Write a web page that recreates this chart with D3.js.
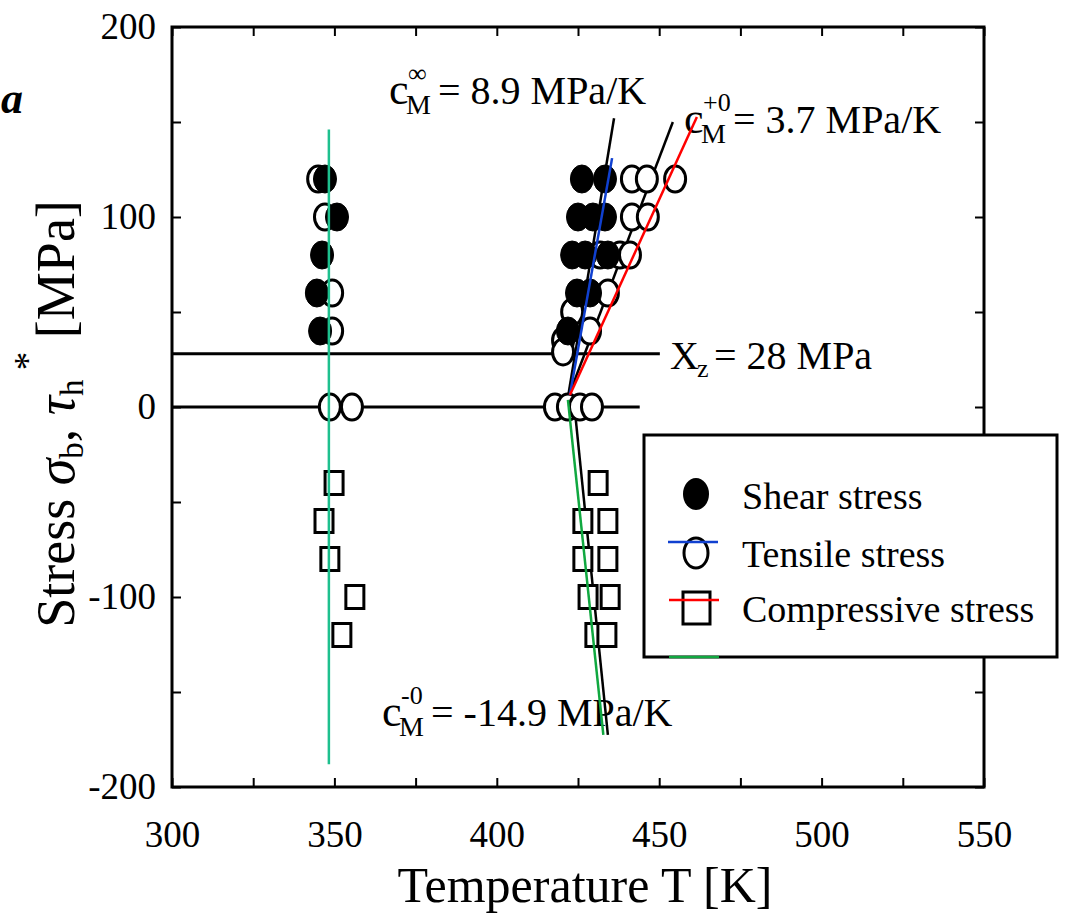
<!DOCTYPE html>
<html><head><meta charset="utf-8">
<script src="https://cdn.jsdelivr.net/npm/d3@7"></script>
<style>
html,body{margin:0;padding:0;background:#fff;}
svg{display:block;font-family:"Liberation Serif","DejaVu Serif",serif;}
</style></head>
<body><svg id="c" width="1067" height="920"></svg>
<script>
// ---------- data ----------
const xTicks = [300,325,350,375,400,425,450,475,500,525,550];
const xLabels = [300,350,400,450,500,550];
const yTicks = [-200,-150,-100,-50,0,50,100,150,200];
const yLabels = [-200,-100,0,100,200];

// shear stress (filled circles): [T (K), stress (MPa)]
const shearPts = [
  [347.1,120],[350.8,100],[346.2,80],[344.6,60],[345.6,40],
  [426.2,120],[433.3,120],[425.0,100],[429.6,100],[433.3,100],
  [423.2,80],[427.2,80],[434.2,80],[424.7,60],[428.7,60],[421.9,40]
];
// tensile stress (open circles)
const tensilePts = [
  [345.0,120],[347.1,100],[349.3,60],[349.3,40],[348.6,0],[355.4,0],
  [441.6,120],[446.2,120],[454.9,120],[441.6,100],[446.5,100],
  [431.8,80],[437.9,80],[441.0,80],[434.2,60],[423.2,50],[428.7,40],
  [420.4,35],[420.4,29],[417.9,0],[421.9,0],[425.6,0],[429.3,0]
];
// compressive stress (open squares)
const compPts = [
  [349.9,-40],[346.8,-60],[348.6,-80],[356.3,-100],[352.3,-120],
  [431.2,-40],[426.5,-60],[434.2,-60],[426.5,-80],[434.2,-80],
  [428.1,-100],[434.9,-100],[430.2,-120],[433.9,-120]
];
// reference lines
const xzValue = 28;            // X_z = 28 MPa
const xzEnd = 450.2;
const zeroEnd = 444;
const fitInf  = [[421.9,5],[436.1,152]];     // c_M^inf  (black)
const fitPlus = [[421.5,3],[454.2,150]];     // c_M^+0   (black)
const fitMinus= [[424.1,-3],[434.2,-172.6]]; // c_M^-0   (black)
const blueLine  = [[422.5,6.3],[435.5,131]];
const redLine   = [[422.5,6.3],[461.6,152.6]];
const greenDiag = [[421.9,3.7],[432.8,-172.6]];
const greenVert = [[348.3,146],[348.3,-188]];
const legendItems = ["Shear stress","Tensile stress","Compressive stress"];

// ---------- drawing ----------
const svg = d3.select("#c");
const x = d3.scaleLinear().domain([300,550]).range([172,984]);
const y = d3.scaleLinear().domain([-200,200]).range([787,27]);
const line = d3.line().x(d=>x(d[0])).y(d=>y(d[1]));

// frame
svg.append("rect").attr("x",x(300)).attr("y",y(200))
  .attr("width",x(550)-x(300)).attr("height",y(-200)-y(200))
  .attr("fill","none").attr("stroke","#000").attr("stroke-width",3);

function styleAxis(g){
  g.select(".domain").remove();
  g.selectAll(".tick line").attr("stroke","#000").attr("stroke-width",2);
  g.selectAll("text").attr("fill","#000").attr("font-family","Liberation Serif");
}
svg.append("g").attr("transform",`translate(0,${y(-200)})`)
  .call(d3.axisBottom(x).tickValues(xTicks).tickSize(-9).tickPadding(34)
    .tickFormat(d=>xLabels.includes(d)?d:""))
  .call(styleAxis).selectAll("text").attr("font-size",37);
svg.append("g").attr("transform",`translate(0,${y(200)})`)
  .call(d3.axisTop(x).tickValues(xTicks).tickSize(-9).tickFormat(""))
  .call(styleAxis);
svg.append("g").attr("transform",`translate(${x(300)},0)`)
  .call(d3.axisLeft(y).tickValues(yTicks).tickSize(-9).tickPadding(16)
    .tickFormat(d=>yLabels.includes(d)?d:""))
  .call(styleAxis).selectAll("text").attr("font-size",37);
svg.append("g").attr("transform",`translate(${x(550)},0)`)
  .call(d3.axisRight(y).tickValues(yTicks).tickSize(-9).tickFormat(""))
  .call(styleAxis);

// horizontal reference lines
svg.append("path").datum([[300,xzValue],[xzEnd,xzValue]]).attr("d",line)
  .attr("stroke","#000").attr("stroke-width",3).attr("fill","none");
svg.append("path").datum([[300,0],[zeroEnd,0]]).attr("d",line)
  .attr("stroke","#000").attr("stroke-width",3).attr("fill","none");

// black fit lines
[fitInf,fitPlus,fitMinus].forEach(d=>{
  svg.append("path").datum(d).attr("d",line)
    .attr("stroke","#000").attr("stroke-width",2.5).attr("fill","none");
});

// markers
const mk = svg.append("g");
mk.selectAll("rect.comp").data(compPts).join("rect").attr("class","comp")
  .attr("x",d=>x(d[0])-9).attr("y",d=>y(d[1])-11.5)
  .attr("width",18).attr("height",23)
  .attr("fill","#fff").attr("stroke","#000").attr("stroke-width",3);
mk.selectAll("ellipse.ten").data(tensilePts).join("ellipse").attr("class","ten")
  .attr("cx",d=>x(d[0])).attr("cy",d=>y(d[1])).attr("rx",10.5).attr("ry",13)
  .attr("fill","#fff").attr("stroke","#000").attr("stroke-width",3);
mk.selectAll("ellipse.sh").data(shearPts).join("ellipse").attr("class","sh")
  .attr("cx",d=>x(d[0])).attr("cy",d=>y(d[1])).attr("rx",11.5).attr("ry",14)
  .attr("fill","#000").attr("stroke","#000").attr("stroke-width",1);

// legend
const lg = svg.append("g");
lg.append("rect").attr("x",644).attr("y",435).attr("width",413).attr("height",222)
  .attr("fill","#fff").attr("stroke","#000").attr("stroke-width",3);
lg.append("ellipse").attr("cx",696).attr("cy",494).attr("rx",13).attr("ry",16).attr("fill","#000");
lg.append("ellipse").attr("cx",696).attr("cy",553).attr("rx",12).attr("ry",15)
  .attr("fill","#fff").attr("stroke","#000").attr("stroke-width",3);
lg.append("rect").attr("x",683).attr("y",592).attr("width",27).attr("height",32)
  .attr("fill","#fff").attr("stroke","#000").attr("stroke-width",3);
lg.selectAll("text.li").data(legendItems).join("text").attr("class","li")
  .attr("x",742).attr("y",(d,i)=>[509,567,622][i]).attr("font-size",38)
  .attr("fill","#000").text(d=>d);

// annotations
function cLabel(xc, yb, sup, rest){
  svg.append("text").attr("x",xc).attr("y",yb).attr("font-size",44).text("c");
  svg.append("text").attr("x",xc+19).attr("y",yb-22).attr("font-size",26).text(sup);
  svg.append("text").attr("x",xc+17).attr("y",yb+10).attr("font-size",28).text("M");
  svg.append("text").attr("x",xc+49).attr("y",yb).attr("font-size",40).text(rest);
}
cLabel(389,104,"\u221E","= 8.9 MPa/K");
cLabel(684,133,"+0","= 3.7 MPa/K");
cLabel(382,726,"-0","= -14.9 MPa/K");
svg.append("text").attr("x",670).attr("y",369).attr("font-size",40).text("X");
svg.append("text").attr("x",697).attr("y",377).attr("font-size",26).text("z");
svg.append("text").attr("x",714).attr("y",369).attr("font-size",40).text("= 28 MPa");

// axis titles
svg.append("text").attr("x",585).attr("y",902).attr("text-anchor","middle")
  .attr("font-size",50).text("Temperature T [K]");
const yl = svg.append("text").attr("transform","translate(74,414) rotate(-90)")
  .attr("text-anchor","middle").attr("font-size",54);
yl.append("tspan").text("Stress ");
yl.append("tspan").attr("font-style","italic").text("\u03C3");
yl.append("tspan").attr("font-size",33).attr("dy",9).text("b");
yl.append("tspan").attr("dy",-9).text(", ");
yl.append("tspan").attr("font-style","italic").text("\u03C4");
yl.append("tspan").attr("font-size",33).attr("dy",9).text("h");
yl.append("tspan").attr("font-size",37).attr("dy",-43).text(" *");
yl.append("tspan").attr("dy",34).text("  [MPa]");

// panel letter
svg.append("text").attr("x",1).attr("y",113).attr("font-size",44)
  .attr("font-weight","bold").attr("font-style","italic").text("a");

// coloured overlay lines
const ov = svg.append("g").attr("fill","none").attr("stroke-width",2.5);
ov.append("path").datum(greenVert).attr("d",line).attr("stroke","#1ec08e");
ov.append("path").datum(greenDiag).attr("d",line).attr("stroke","#10a840");
ov.append("path").datum(blueLine).attr("d",line).attr("stroke","#1040d0");
ov.append("path").datum(redLine).attr("d",line).attr("stroke","#ff0000");
ov.append("line").attr("x1",668).attr("x2",718).attr("y1",542).attr("y2",542).attr("stroke","#1040d0");
ov.append("line").attr("x1",669).attr("x2",719).attr("y1",600).attr("y2",600).attr("stroke","#ff0000");
ov.append("line").attr("x1",669).attr("x2",719).attr("y1",657).attr("y2",657).attr("stroke","#10a840");
</script></body></html>
